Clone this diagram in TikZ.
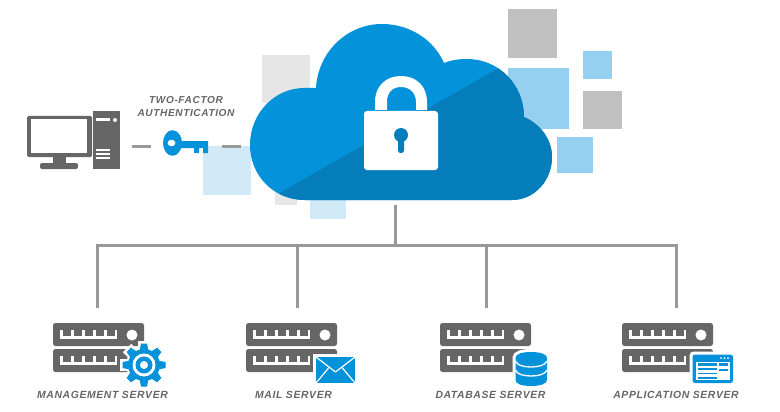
\documentclass[tikz,border=0pt]{standalone}
\usepackage{fontspec}
\setmainfont{Liberation Sans}
\newfontfamily\lblfont[LetterSpace=6,Scale=1]{Liberation Sans}
\definecolor{cloudblue}{HTML}{0492DA}
\definecolor{clouddark}{HTML}{067DBB}
\definecolor{srvgray}{HTML}{666666}
\definecolor{linegray}{HTML}{999999}
\definecolor{sqgray}{HTML}{C0C0C0}
\definecolor{sqlight}{HTML}{E6E6E6}
\definecolor{sqblue}{HTML}{96D0F0}
\definecolor{sqpale}{HTML}{D2E9F7}
\definecolor{lbl}{HTML}{666666}
\tikzset{
  conn/.style={draw=linegray,line width=3pt},
  lab/.style={font=\lblfont\bfseries\itshape\fontsize{10.4}{12}\selectfont,text=lbl,inner sep=0pt,align=center},
  tfalab/.style={lab,font=\lblfont\bfseries\itshape\fontsize{10.1}{12}\selectfont},
  srvbody/.style={fill=srvgray,rounded corners=2.5pt},
}
\newcommand{\serverunit}[1]{%
  \begin{scope}[shift={(#1)}]
    \foreach \yy in {0,26}{
      \fill[srvbody] (0,\yy) rectangle (91,\yy+23);
      \fill[white] (7,\yy+7) rectangle (64,\yy+16);
      \foreach \xx in {9.5,20.5,31.5,42.5,53.5}{
        \fill[srvgray] (\xx,\yy+6.5) rectangle (\xx+8.5,\yy+12.5);
      }
      \fill[white] (79,\yy+12) circle (5.5);
    }
  \end{scope}}
\begin{document}
\begin{tikzpicture}[x=1pt,y=-1pt]
\useasboundingbox (0,0) rectangle (780,412);
% background squares
\fill[sqlight] (262,55) rectangle (310,103);
\fill[sqlight] (275,183) rectangle (297,205);
\fill[sqpale] (310,183) rectangle (346,219);
\fill[sqpale] (203,146) rectangle (251,195);
\fill[sqgray] (508,9) rectangle (557,58);
\fill[sqblue] (508,68) rectangle (569,129);
\fill[sqblue] (583,51) rectangle (612,79);
\fill[sqgray] (583,91) rectangle (622,129);
\fill[sqblue] (557,137) rectangle (593,173);
% cloud
\def\cloudpath{(305,200) .. controls (273,200) and (250,175) .. (250,145)
  .. controls (250,113) and (275,88) .. (304,88)
  .. controls (309,88) and (313,88) .. (316,88)
  .. controls (318,52) and (347,24) .. (382,24)
  .. controls (410,24) and (434,40) .. (444,63)
  .. controls (451,60) and (459,59) .. (467,59)
  .. controls (499,59) and (524,85) .. (524,117)
  .. controls (540,124) and (552,139) .. (552,157)
  .. controls (552,181) and (534,200) .. (512,200) -- cycle}
\fill[cloudblue] \cloudpath;
\begin{scope}
  \clip (283,191) -- (497,69) -- (600,10) -- (600,260) -- (200,260) -- (200,238.2) -- cycle;
  \fill[clouddark] \cloudpath;
\end{scope}
% lock
\fill[white,even odd rule] (375,110) -- (375,102) .. controls (375,86) and (386,76) .. (401,76)
  .. controls (416,76) and (427,86) .. (427,102) -- (427,110) -- (416,110) -- (416,102)
  .. controls (416,93) and (410,87) .. (401,87) .. controls (392,87) and (387,93) .. (387,102) -- (387,110) -- cycle;
\fill[white,rounded corners=3pt] (364,111) rectangle (438,170);
\fill[clouddark] (401,135) circle (7);
\fill[clouddark,rounded corners=2.5pt] (398,136) rectangle (404,153);
% PC
\fill[srvgray,rounded corners=1.5pt] (27,116) rectangle (92,157);
\fill[white] (31,119) rectangle (87,153);
\fill[srvgray] (53,157) rectangle (66,164);
\fill[srvgray,rounded corners=2pt] (40,163) rectangle (78,169);
\fill[srvgray] (93,111) rectangle (120,169);
\fill[white] (96,118.5) rectangle (110,121.5);
\fill[white] (115,120) circle (2);
\foreach \yy in {150,154,158}{\fill[white] (96,\yy-.7) rectangle (110,\yy+.7);}
% dashes and key
\coordinate (pcend) at (132,146);
\coordinate (keyin) at (151,146);
\coordinate (keyout) at (222,146);
\coordinate (cloudin) at (241,146);
\draw[conn] (pcend) -- (keyin);
\draw[conn] (keyout) -- (cloudin);
\fill[cloudblue,even odd rule] (172.5,143) ellipse (9.5 and 12.8) (171.5,143) ellipse (4 and 3.4);
\fill[cloudblue] (180,141) -- (208,141) -- (208,153) -- (203,153) -- (203,148) -- (199,148) -- (199,153) -- (194,153) -- (194,148) -- (180,148) -- cycle;
\node[tfalab] (tfa) at (186,106.5) {TWO-FACTOR\\[1.2pt]AUTHENTICATION};
% tree
\coordinate (trunk) at (395,205);
\coordinate (hub) at (395,245);
\coordinate (s1) at (97,308);
\coordinate (s2) at (297,308);
\coordinate (s3) at (486,308);
\coordinate (s4) at (676,308);
\draw[conn] (trunk) -- (hub);
\draw[conn,line cap=rect] (s1 |- hub) -- (s4 |- hub);
\foreach \s in {s1,s2,s3,s4}{\draw[conn] (\s |- hub) -- (\s);}
% servers
\serverunit{53,323}
\serverunit{246,323}
\serverunit{440,323}
\serverunit{622,323}
% gear
\begin{scope}[shift={(144,365)}]
  \fill[white] (0,0) circle (18);
  \foreach \a in {0,45,...,315}{
    \fill[white,rotate=\a] (-6,-14) rectangle (6,-24);
  }
  \foreach \a in {0,45,...,315}{
    \fill[cloudblue,rotate=\a] (-4.5,-14) -- (-3,-21.5) -- (3,-21.5) -- (4.5,-14) -- cycle;
  }
  \fill[cloudblue] (0,0) circle (16);
  \fill[white] (0,0) circle (11.5);
  \fill[cloudblue] (0,0) circle (8.5);
  \fill[white] (0,0) circle (4);
\end{scope}
% envelope
\fill[white] (313,354) rectangle (358,386);
\fill[cloudblue] (316,357) rectangle (355,383);
\draw[white,line width=1.2pt,line join=round] (316,357) -- (335.5,372) -- (355,357);
\draw[white,line width=1.2pt] (316,383) -- (329,367.5) (355,383) -- (342,367.5);
% database
\def\dbpath{(515.5,358) .. controls (515.5,354) and (522,352) .. (531,352)
  .. controls (540,352) and (547,354) .. (547,358) -- (547,380)
  .. controls (547,384) and (540,386) .. (531,386)
  .. controls (522,386) and (515.5,384) .. (515.5,380) -- cycle}
\path[draw=white,line width=6pt,fill=white] \dbpath;
\fill[cloudblue] \dbpath;
\draw[white,line width=1.3pt] (515.5,361) .. controls (517,365.5) and (524,367) .. (531,367) .. controls (538,367) and (545,365.5) .. (547,361);
\draw[white,line width=1.3pt] (515.5,370) .. controls (517,374.5) and (524,376) .. (531,376) .. controls (538,376) and (545,374.5) .. (547,370);
% application window
\fill[white,rounded corners=4pt] (689.5,351.5) rectangle (735.5,386);
\fill[cloudblue,rounded corners=2.5pt] (692.5,354.5) rectangle (733,383);
\fill[white] (696,361.5) rectangle (729.5,380);
\foreach \xx in {721,724.5,728}{\fill[white] (\xx,358.2) circle (1);}
\foreach \yy/\hh in {363/2.5,368/1.8,372.5/1.8,376.5/2}{\fill[cloudblue] (697.5,\yy) rectangle (717,\yy+\hh);}
\foreach \yy/\hh in {363/2.5,369/2}{\fill[cloudblue] (719,\yy) rectangle (728,\yy+\hh);}
% labels
\node[lab] (l1) at (102.5,395) {MANAGEMENT SERVER};
\node[lab] (l2) at (293.5,395) {MAIL SERVER};
\node[lab] (l3) at (490.5,395) {DATABASE SERVER};
\node[lab] (l4) at (676,395) {APPLICATION SERVER};
\end{tikzpicture}
\end{document}
